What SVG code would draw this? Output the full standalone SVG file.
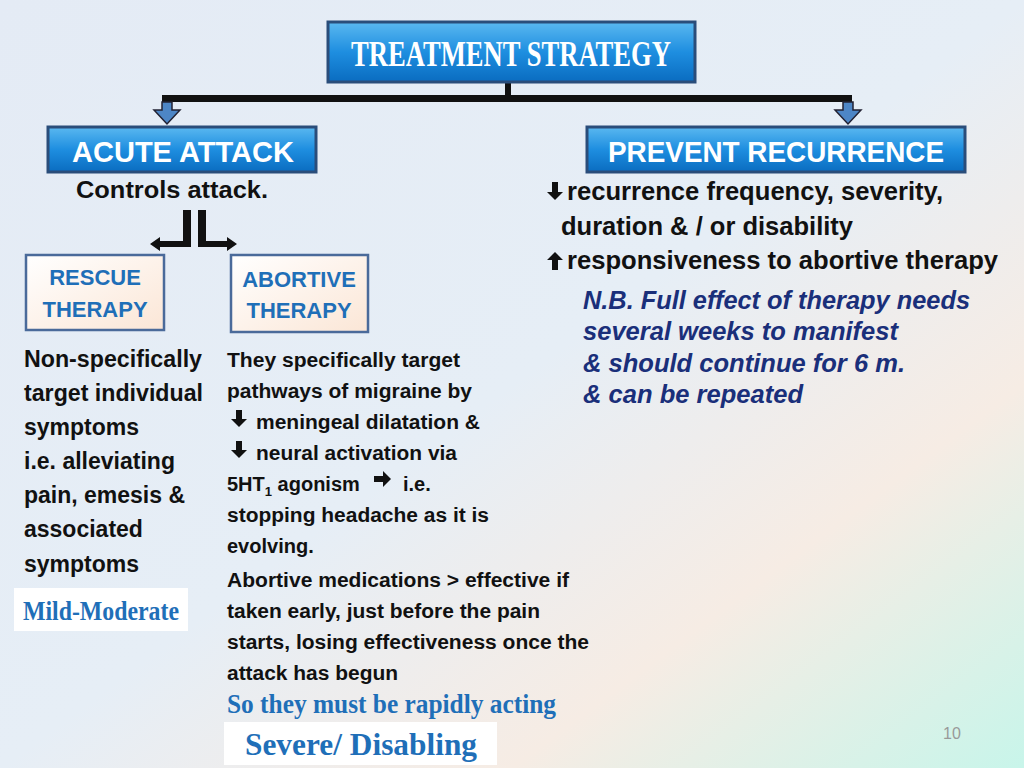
<svg xmlns="http://www.w3.org/2000/svg" width="1024" height="768" viewBox="0 0 1024 768">
<defs>
<linearGradient id="bg" x1="0" y1="0" x2="1" y2="1"><stop offset="0" stop-color="#e4ebf5"/><stop offset="0.5" stop-color="#e6eef6"/><stop offset="0.75" stop-color="#f6ece4"/><stop offset="1" stop-color="#c8f5ea"/></linearGradient>
<linearGradient id="blue" x1="0" y1="0" x2="0" y2="1"><stop offset="0" stop-color="#5ab8f0"/><stop offset="0.5" stop-color="#1e8ee0"/><stop offset="1" stop-color="#0a6cc0"/></linearGradient>
<linearGradient id="pale" x1="0" y1="0" x2="1" y2="1"><stop offset="0" stop-color="#ffffff"/><stop offset="1" stop-color="#fbe6d6"/></linearGradient>
<style>
.t{font-family:"Liberation Sans",Arial,sans-serif;font-weight:bold;font-size:23px;fill:#111}
.w{font-family:"Liberation Sans",Arial,sans-serif;font-weight:bold;fill:#fff}
.b{font-family:"Liberation Sans",Arial,sans-serif;font-weight:bold;font-size:22px;fill:#1f6fb8;text-anchor:middle}
.s{font-family:"Liberation Sans",Arial,sans-serif;font-weight:bold;font-size:20px;fill:#111}
.i{font-family:"Liberation Sans",Arial,sans-serif;font-weight:bold;font-style:italic;font-size:25px;fill:#1a2f7a}
.bb{fill:url(#blue);stroke:#2a4d7a;stroke-width:3}
.pb{fill:url(#pale);stroke:#4a6a9a;stroke-width:2.5}
.da{fill:#4d86c6;stroke:#223;stroke-width:1.5}
</style>
</defs>
<rect width="1024" height="768" fill="url(#bg)"/>
<g id="connectors">
<rect x="505" y="82" width="6" height="16" fill="#111"/>
<rect x="162" y="95" width="690" height="7" fill="#111"/>
<path class="da" d="M162 102 H172 V110 H180 L167 124 L154 110 H162 Z"/>
<path class="da" d="M843 102 H853 V110 H861 L848 124 L835 110 H843 Z"/>
<path d="M183 210 H191 V247 H160 V251 L150 244 L160 237 V241 H183 Z" fill="#111"/>
<path d="M198 210 H206 V241 H227 V237 L237 244 L227 251 V247 H198 Z" fill="#111"/>
</g>
<g id="treatment"><rect class="bb" x="328" y="22" width="367" height="60"/><text class="w" x="511" y="66" font-size="36" text-anchor="middle" textLength="320" lengthAdjust="spacingAndGlyphs" style="font-family:'Liberation Serif',serif">TREATMENT STRATEGY</text></g>
<g id="acute"><rect class="bb" x="48" y="127" width="268" height="45"/><text class="w" x="183" y="162" font-size="30" text-anchor="middle" textLength="222" lengthAdjust="spacingAndGlyphs">ACUTE  ATTACK</text>
<text class="t" x="76" y="198" textLength="192" lengthAdjust="spacingAndGlyphs">Controls attack.</text></g>
<g id="prevent"><rect class="bb" x="587" y="127" width="378" height="45"/><text class="w" x="776" y="162" font-size="30" text-anchor="middle" textLength="336" lengthAdjust="spacingAndGlyphs">PREVENT RECURRENCE</text>
<path d="M552 182 v10 h-5 l8 8 l8 -8 h-5 v-10 z" fill="#111"/>
<text class="t" x="567" y="200" textLength="376" lengthAdjust="spacingAndGlyphs" style="font-size:25px">recurrence frequency, severity,</text>
<text class="t" x="561" y="235" textLength="292" lengthAdjust="spacingAndGlyphs" style="font-size:25px">duration &amp; / or disability</text>
<path d="M552 270 v-10 h-5 l8 -8 l8 8 h-5 v10 z" fill="#111"/>
<text class="t" x="567" y="269" textLength="431" lengthAdjust="spacingAndGlyphs" style="font-size:25px">responsiveness to abortive therapy</text>
<text class="i" x="583" y="309" textLength="387" lengthAdjust="spacingAndGlyphs">N.B. Full effect of therapy needs</text>
<text class="i" x="583" y="340" textLength="315" lengthAdjust="spacingAndGlyphs">several weeks to manifest</text>
<text class="i" x="583" y="372" textLength="322" lengthAdjust="spacingAndGlyphs">&amp; should continue for 6 m.</text>
<text class="i" x="583" y="403" textLength="220" lengthAdjust="spacingAndGlyphs">&amp; can be repeated</text></g>
<g id="rescue"><rect class="pb" x="26" y="255" width="138" height="75"/><text class="b" x="95" y="285">RESCUE</text><text class="b" x="95" y="317">THERAPY</text>
<g class="t"><text x="24" y="367" textLength="178" lengthAdjust="spacingAndGlyphs">Non-specifically</text><text x="24" y="401" textLength="179" lengthAdjust="spacingAndGlyphs">target individual</text><text x="24" y="435">symptoms</text><text x="24" y="469" textLength="151" lengthAdjust="spacingAndGlyphs">i.e. alleviating</text><text x="24" y="503" textLength="161" lengthAdjust="spacingAndGlyphs">pain, emesis &amp;</text><text x="24" y="537">associated</text><text x="24" y="572">symptoms</text></g>
<rect x="14" y="588" width="174" height="43" fill="#fff"/><text x="101" y="620" text-anchor="middle" font-family="'Liberation Serif',serif" font-weight="bold" font-size="28" fill="#1f6fb8" textLength="156" lengthAdjust="spacingAndGlyphs">Mild-Moderate</text></g>
<g id="abortive"><rect class="pb" x="231" y="255" width="137" height="77"/><text class="b" x="299" y="287">ABORTIVE</text><text class="b" x="299" y="318">THERAPY</text>
<g class="s">
<text x="227" y="367" textLength="233" lengthAdjust="spacingAndGlyphs">They specifically target</text>
<text x="227" y="398" textLength="245" lengthAdjust="spacingAndGlyphs">pathways of migraine by</text>
<path d="M236 410 v9 h-5 l8 8 l8 -8 h-5 v-9 z" fill="#111"/>
<text x="256" y="429" textLength="224" lengthAdjust="spacingAndGlyphs">meningeal dilatation &amp;</text>
<path d="M236 441 v9 h-5 l8 8 l8 -8 h-5 v-9 z" fill="#111"/>
<text x="256" y="460" textLength="201" lengthAdjust="spacingAndGlyphs">neural activation via</text>
<text x="227" y="491">5HT<tspan font-size="13" dy="5">1</tspan><tspan dy="-5"> agonism</tspan></text>
<path d="M374 476 h9 v-5 l8 8 l-8 8 v-5 h-9 z" fill="#111"/>
<text x="403" y="491">i.e.</text>
<text x="227" y="522" textLength="262" lengthAdjust="spacingAndGlyphs">stopping headache as it is</text>
<text x="227" y="553">evolving.</text>
<text x="227" y="587" textLength="342" lengthAdjust="spacingAndGlyphs">Abortive medications &gt; effective if</text>
<text x="227" y="618" textLength="313" lengthAdjust="spacingAndGlyphs">taken early, just before the pain</text>
<text x="227" y="649" textLength="362" lengthAdjust="spacingAndGlyphs">starts, losing effectiveness once the</text>
<text x="227" y="680" textLength="171" lengthAdjust="spacingAndGlyphs">attack has begun</text></g>
<text x="227" y="713" font-family="'Liberation Serif',serif" font-weight="bold" font-size="27" fill="#1f6fb8" textLength="329" lengthAdjust="spacingAndGlyphs">So they must be rapidly acting</text>
<rect x="224" y="722" width="273" height="43" fill="#fff"/><text x="361" y="755" text-anchor="middle" font-family="'Liberation Serif',serif" font-weight="bold" font-size="32" fill="#1f6fb8" textLength="232" lengthAdjust="spacingAndGlyphs">Severe/ Disabling</text></g>
<text x="952" y="739" font-family="'Liberation Sans',sans-serif" font-size="16" fill="#999" text-anchor="middle">10</text>
</svg>
